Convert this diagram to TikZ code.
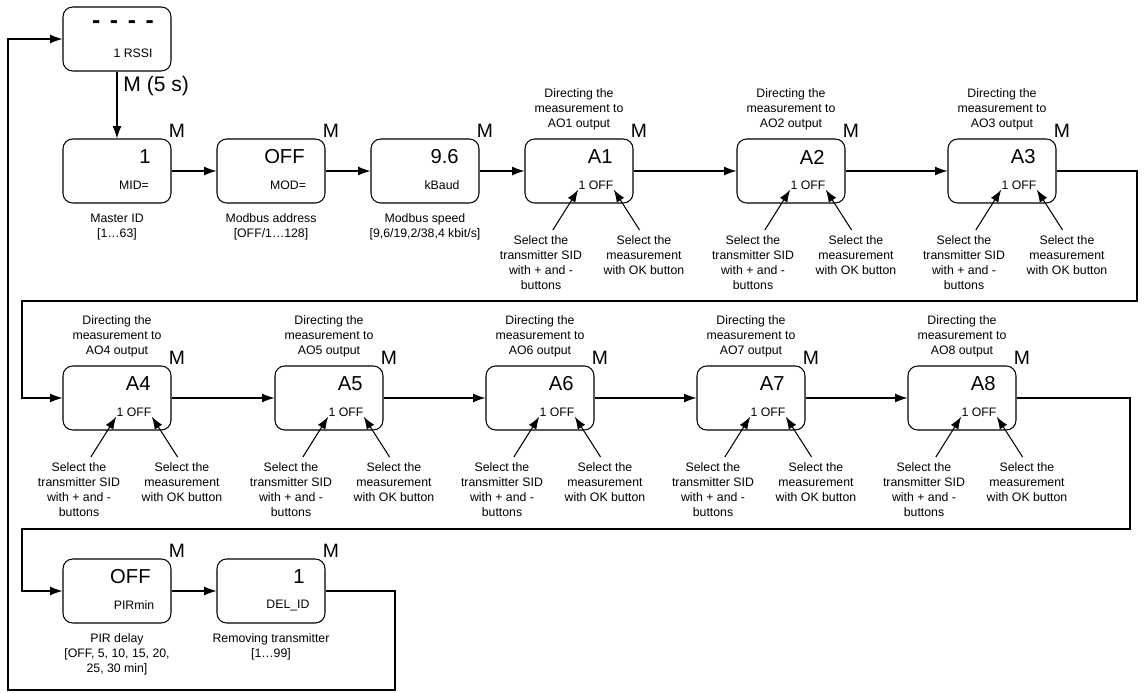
\documentclass[tikz,border=0pt]{standalone}
\usepackage{fontspec}
\setmainfont{Liberation Sans}
\usetikzlibrary{arrows.meta}

\tikzset{
  menubox/.style={draw, line width=0.6pt, rounded corners=5.5pt, minimum width=2.16cm, minimum height=1.28cm, inner sep=0pt},
  bigval/.style={font=\fontsize{11.5}{12}\selectfont, inner sep=0pt, anchor=east},
  smallval/.style={font=\fontsize{7}{8.5}\selectfont, inner sep=0pt},
  mkey/.style={font=\fontsize{11}{12}\selectfont, inner sep=0pt},
  note/.style={font=\fontsize{7}{8.5}\selectfont, align=center, inner sep=3pt},
  wire/.style={line width=0.6pt}
}

\begin{document}
\begin{tikzpicture}[x=0.02cm, y=-0.02cm, >={Latex[length=7pt,width=5pt]}]
  \useasboundingbox (0,0) rectangle (1144,693);

  % start display
  \node[menubox] (rssi) at (117,39) {};
  \node[font=\fontsize{14}{14}\selectfont\bfseries, inner sep=0pt] at (123,25)
    {-\hspace{5.5pt}-\hspace{5.5pt}-\hspace{5.5pt}-};
  \node[smallval] at (133,53) {1 RSSI};

  % plain settings
  \foreach \n/\L/\T/\val/\tag in {mid/63/139/1/MID=, mod/217/139/OFF/MOD=, baud/371/139/9.6/kBaud,
                                  pir/63/559/OFF/PIRmin, del/217/559/1/DEL\_ID} {
    \node[menubox] (\n) at (\L+54,\T+32) {};
    \node[bigval] at (\L+88,\T+18) {\val};
    \node[smallval] at (\L+71,\T+46) {\tag};
    \node[mkey] at (\L+114,\T-8) {M};
  }
  \node[note, anchor=north] (mid-note) at (117,208) {Master ID\\{[1…63]}};
  \node[note, anchor=north] (mod-note) at (271,208) {Modbus address\\{[OFF/1…128]}};
  \node[note, anchor=north] (baud-note) at (425,208) {Modbus speed\\{[9,6/19,2/38,4 kbit/s]}};
  \node[note, anchor=north] (pir-note) at (117,628) {PIR delay\\{[OFF, 5, 10, 15, 20,}\\25, 30 min]};
  \node[note, anchor=north] (del-note) at (271,628) {Removing transmitter\\{[1…99]}};

  % analog outputs
  \foreach \i/\L/\T in {1/525/139, 2/737/139, 3/948/139, 4/63/366,
                        5/275/366, 6/486/366, 7/697/366, 8/908/366} {
    \node[menubox] (a\i) at (\L+54,\T+32) {};
    \node[bigval] at (\L+88,\T+18) {A\i};
    \node[smallval] (a\i-val) at (\L+71,\T+46) {1 OFF};
    \node[mkey] at (\L+114,\T-8) {M};
    \node[note, anchor=south] (a\i-dir) at (\L+54,\T-3) {Directing the\\measurement to\\AO\i{} output};
    \node[note, anchor=north] (a\i-sid) at (\L+16,\T+91) {Select the\\transmitter SID\\with + and -\\buttons};
    \node[note, anchor=north] (a\i-ok) at (\L+119,\T+91) {Select the\\measurement\\with OK button};
    \draw[wire,->] (a\i-sid.70) -- (a\i-val.south west);
    \draw[wire,->] (a\i-ok.100) -- (a\i-val.south east);
  }

  % menu sequence
  \draw[wire,->] (rssi) -- node[pos=0.22, right, font=\fontsize{12}{12}\selectfont] {M (5 s)} (mid);
  \draw[wire,->] (mid) -- (mod);
  \draw[wire,->] (mod) -- (baud);
  \draw[wire,->] (baud) -- (a1);
  \draw[wire,->] (a1) -- (a2);
  \draw[wire,->] (a2) -- (a3);
  \draw[wire,->] (a4) -- (a5);
  \draw[wire,->] (a5) -- (a6);
  \draw[wire,->] (a6) -- (a7);
  \draw[wire,->] (a7) -- (a8);
  \draw[wire,->] (pir) -- (del);

  \coordinate (turn1) at (1137,301);
  \coordinate (turn2) at (22,301);
  \coordinate (turn3) at (1130,529);
  \coordinate (turn4) at (22,529);
  \coordinate (turn5) at (395,690);
  \coordinate (turn6) at (8,690);
  \draw[wire,->] (a3) -| (turn1) -- (turn2) |- (a4);
  \draw[wire,->] (a8) -| (turn3) -- (turn4) |- (pir);
  \draw[wire,->] (del) -| (turn5) -- (turn6) |- (rssi);
\end{tikzpicture}
\end{document}
